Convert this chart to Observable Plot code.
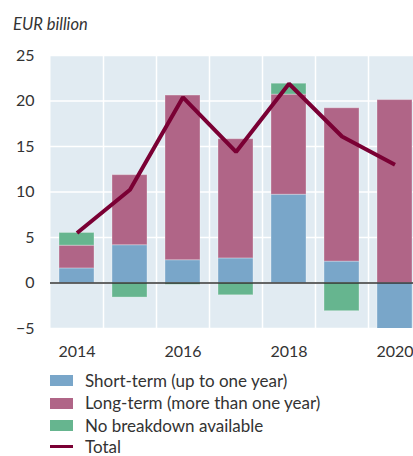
<!DOCTYPE html>
<html>
<head>
<meta charset="utf-8">
<script src="https://cdn.jsdelivr.net/npm/d3@7"></script>
<script src="https://cdn.jsdelivr.net/npm/@observablehq/plot@0.6"></script>
<style>
  html, body { margin: 0; padding: 0; overflow: hidden; background: #fff; width: 413px; height: 456px; }
  body { position: relative; font-family: Lato, "Open Sans", sans-serif; color: #333; }
  #title { position: absolute; left: 13px; top: 16px; font-size: 16.5px; line-height: 16px; font-style: italic; white-space: nowrap; }
  #chart { position: absolute; left: 0; top: 0; width: 421px; }
  #chart svg { max-width: none !important; }
  .row { position: absolute; left: 50px; height: 16px; display: flex; align-items: center; font-size: 17px; line-height: 16px; white-space: nowrap; }
  .sw { width: 23px; height: 11px; margin-right: 12px; flex: none; }
  .ln { width: 23px; height: 3.5px; margin-right: 12px; flex: none; }
</style>
</head>
<body>
<div id="title">EUR billion</div>
<div id="chart"></div>
<div id="legend"></div>
<script>
const years = ["2014", "2015", "2016", "2017", "2018", "2019", "2020"];
const shortTerm = [1.6, 4.15, 2.5, 2.7, 9.7, 2.35, -7.1];
const longTerm = [2.5, 7.7, 18.1, 13.1, 11.0, 16.85, 20.1];
const noBreakdown = [1.4, -1.6, -0.2, -1.35, 1.2, -3.1, 0];
const total = [5.5, 10.25, 20.4, 14.4, 21.9, 16.1, 13.0];

const seriesNames = ["Short-term (up to one year)", "Long-term (more than one year)", "No breakdown available"];
const totalName = "Total";
const seriesColors = ["#79A6C9", "#B06587", "#66B58F"];
const totalColor = "#7A0034";
const yTicks = [-5, 0, 5, 10, 15, 20, 25];
const xTickLabels = ["2014", "2016", "2018", "2020"];

const seriesValues = [shortTerm, longTerm, noBreakdown];
const rows = [];
seriesNames.forEach((name, i) => {
  years.forEach((year, j) => rows.push({ year, series: name, value: seriesValues[i][j] }));
});
const totalRows = years.map((year, j) => ({ year, value: total[j] }));

const width = 421, marginLeft = 50, marginRight = 0;
const bandwidth = (width - marginLeft - marginRight) / years.length;

const chart = Plot.plot({
  width,
  height: 370,
  marginLeft,
  marginRight,
  marginTop: 55,
  marginBottom: 42,
  style: { fontFamily: "Lato, 'Open Sans', sans-serif", fontSize: "16px", color: "#333", background: "transparent", overflow: "visible", maxWidth: "none" },
  x: { domain: years, padding: 0, label: null },
  y: { domain: [-5, 25], label: null },
  color: { domain: seriesNames, range: seriesColors },
  marks: [
    Plot.frame({ fill: "#E1EBF2", stroke: "none" }),
    Plot.gridY(yTicks, { stroke: "white", strokeOpacity: 1, strokeWidth: 1.5 }),
    Plot.ruleX(years.slice(0, -1), { x: d => d, dx: bandwidth / 2, stroke: "white", strokeWidth: 1.5 }),
    Plot.barY(rows, {
      x: "year", y: "value", fill: "series", order: seriesNames,
      insetLeft: 9, insetRight: 9, clip: true,
      stroke: "white", strokeOpacity: 0.3, strokeWidth: 1
    }),
    Plot.ruleY([0], { stroke: "#333", strokeWidth: 1.5 }),
    Plot.line(totalRows, { x: "year", y: "value", stroke: totalColor, strokeWidth: 4, strokeLinejoin: "miter", strokeLinecap: "butt", clip: true }),
    Plot.axisY({ ticks: yTicks, tickSize: 0, tickPadding: 16, label: null }),
    Plot.axisX({ ticks: xTickLabels, tickSize: 0, tickPadding: 17, label: null })
  ]
});
chart.style.maxWidth = "none";
document.getElementById("chart").append(chart);

const legend = document.getElementById("legend");
const centers = [380.5, 403, 425.5, 446.5];
seriesNames.concat([totalName]).forEach((name, i) => {
  const row = document.createElement("div");
  row.className = "row";
  row.style.top = (centers[i] - 8) + "px";
  const sw = document.createElement("div");
  if (i < seriesNames.length) { sw.className = "sw"; sw.style.background = seriesColors[i]; }
  else { sw.className = "ln"; sw.style.background = totalColor; }
  const label = document.createElement("span");
  label.textContent = name;
  row.append(sw, label);
  legend.append(row);
});
</script>
</body>
</html>
